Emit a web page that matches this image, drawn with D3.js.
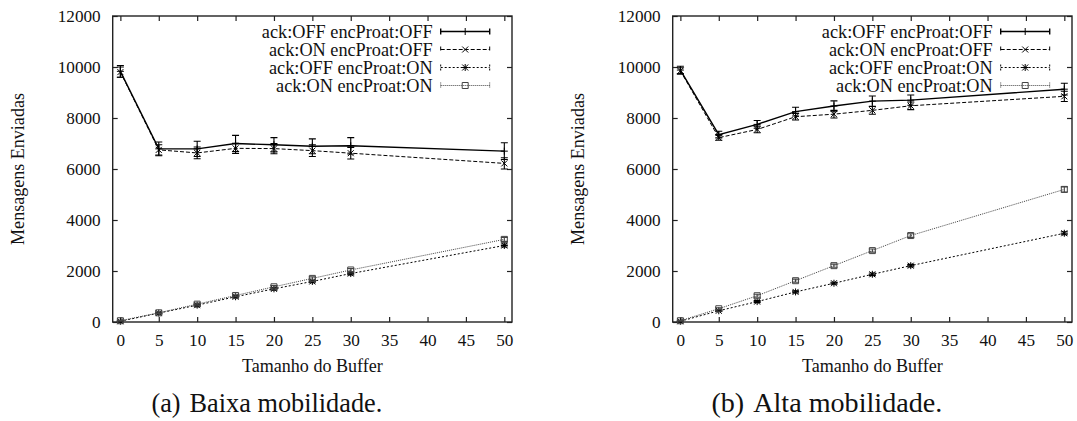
<!DOCTYPE html>
<html>
<head>
<meta charset="utf-8">
<script src="https://cdn.jsdelivr.net/npm/d3@7"></script>
<style>
  body { margin: 0; background: #fff; }
</style>
</head>
<body>
<svg id="chart" width="1077" height="421" font-family="Liberation Serif"></svg>
<script>
// ---- data ----
const buffers = [0, 5, 10, 15, 20, 25, 30, 50];
const seriesNames = ["ack:OFF encProat:OFF", "ack:ON encProat:OFF", "ack:OFF encProat:ON", "ack:ON encProat:ON"];
const xTicks = [0, 5, 10, 15, 20, 25, 30, 35, 40, 45, 50];
const yTicks = [0, 2000, 4000, 6000, 8000, 10000, 12000];

// (a) Baixa mobilidade
const lowOffOff = [9830, 6790, 6790, 7000, 6950, 6890, 6910, 6700];
const lowOffOffErr = [230, 270, 300, 320, 280, 290, 320, 330];
const lowOnOff = [9800, 6750, 6630, 6810, 6800, 6720, 6620, 6220];
const lowOnOffErr = [200, 200, 230, 200, 200, 230, 230, 220];
const lowOffOn = [30, 350, 660, 990, 1300, 1590, 1900, 3000];
const lowOffOnErr = [20, 30, 40, 40, 50, 50, 50, 60];
const lowOnOn = [50, 360, 700, 1040, 1380, 1710, 2040, 3240];
const lowOnOnErr = [20, 30, 40, 50, 50, 60, 60, 80];

// (b) Alta mobilidade
const highOffOff = [9880, 7350, 7750, 8250, 8470, 8660, 8700, 9130];
const highOffOffErr = [150, 130, 150, 170, 200, 200, 200, 230];
const highOnOff = [9850, 7230, 7550, 8050, 8150, 8300, 8480, 8850];
const highOnOffErr = [120, 100, 130, 130, 150, 150, 150, 200];
const highOffOn = [30, 440, 800, 1180, 1520, 1870, 2210, 3480];
const highOffOnErr = [20, 30, 40, 40, 40, 50, 50, 60];
const highOnOn = [50, 520, 1030, 1620, 2210, 2800, 3390, 5200];
const highOnOnErr = [20, 40, 60, 60, 60, 60, 70, 100];

// ---- styles per series (gnuplot-like) ----
const styles = [
  { dash: null,  color: "#000", width: 1.4, marker: "plus" },
  { dash: "4,2", color: "#000", width: 1,   marker: "cross" },
  { dash: "2,2", color: "#000", width: 1,   marker: "star" },
  { dash: "1,1", color: "#444", width: 1,   marker: "square" }
];

const markerPath = {
  plus: "M-3.5,0H3.5M0,-3.5V3.5",
  cross: "M-3,-3L3,3M-3,3L3,-3",
  star: "M-3.5,0H3.5M0,-3.5V3.5M-3,-3L3,3M-3,3L3,-3",
  square: "M-3,-3H3V3H-3Z"
};

const svg = d3.select("#chart");
const plotW = 399.3, plotH = 306, plotTop = 16;
const FONT = "Liberation Serif";

// pick a font size that gives a text node the width measured on the reference
function fitWidth(sel, target) {
  const w = sel.node().getComputedTextLength();
  const fs = parseFloat(sel.attr("font-size"));
  return fs * target / w;
}

function drawPanel(left, caption, values, errs) {
  const g = svg.append("g").attr("transform", `translate(${left},${plotTop})`)
    .attr("font-family", FONT).attr("fill", "#111");

  const x = d3.scaleLinear().domain([-1, 51]).range([0, plotW]);
  const y = d3.scaleLinear().domain([0, 12000]).range([plotH, 0]);

  // Axes (inward ticks, mirrored)
  const ax = [
    g.append("g").call(d3.axisLeft(y).tickValues(yTicks).tickSize(-5).tickPadding(12).tickFormat(d3.format("d"))),
    g.append("g").attr("transform", `translate(${plotW},0)`)
      .call(d3.axisRight(y).tickValues(yTicks).tickSize(-5).tickFormat("")),
    g.append("g").attr("transform", `translate(0,${plotH})`)
      .call(d3.axisBottom(x).tickValues(xTicks).tickSize(-5).tickPadding(12).tickFormat(d3.format("d"))),
    g.append("g").call(d3.axisTop(x).tickValues(xTicks).tickSize(-5).tickFormat(""))
  ];
  ax.forEach(a => {
    a.attr("font-family", FONT).attr("font-size", 17);
    a.select(".domain").remove();
    a.selectAll("line").attr("stroke", "#222").attr("stroke-width", 1.2);
    a.selectAll("text").attr("fill", "#111").attr("font-family", FONT).attr("font-size", 17);
  });
  const topLabel = ax[0].selectAll("text").filter(d => d === 12000);
  const tickFs = fitWidth(topLabel, 43);
  ax[0].selectAll("text").attr("font-size", tickFs);
  ax[2].selectAll("text").attr("font-size", tickFs);

  // Frame
  g.append("rect")
    .attr("width", plotW).attr("height", plotH)
    .attr("fill", "none").attr("stroke", "#222").attr("stroke-width", 1.4);

  // Series
  const line = d3.line().x((d, i) => x(buffers[i])).y(d => y(d));
  values.forEach((vals, s) => {
    const st = styles[s];
    const sg = g.append("g");
    sg.append("path")
      .datum(vals)
      .attr("fill", "none")
      .attr("stroke", st.color)
      .attr("stroke-width", st.width)
      .attr("stroke-dasharray", st.dash)
      .attr("d", line);

    // error bars
    sg.selectAll(".eb").data(vals).enter().append("path")
      .attr("fill", "none")
      .attr("stroke", st.color)
      .attr("stroke-width", 1.1)
      .attr("d", (d, i) => {
        const cx = x(buffers[i]), lo = y(d - errs[s][i]), hi = y(d + errs[s][i]);
        return `M${cx},${lo}V${hi}M${cx - 3.5},${lo}H${cx + 3.5}M${cx - 3.5},${hi}H${cx + 3.5}`;
      });

    // markers
    sg.selectAll(".mk").data(vals).enter().append("path")
      .attr("transform", (d, i) => `translate(${x(buffers[i])},${y(d)})`)
      .attr("d", markerPath[st.marker])
      .attr("fill", "none")
      .attr("stroke", st.color)
      .attr("stroke-width", 1);
  });

  // Legend
  const lg = g.append("g");
  const legTexts = [];
  seriesNames.forEach((name, s) => {
    const st = styles[s];
    const ly = 15.5 + s * 18;
    legTexts.push(lg.append("text")
      .attr("x", 320).attr("y", ly).attr("dy", "0.35em")
      .attr("text-anchor", "end")
      .attr("font-size", 17)
      .text(name));
    lg.append("path")
      .attr("d", `M328,${ly}H377M328,${ly - 3}V${ly + 3}M377,${ly - 3}V${ly + 3}`)
      .attr("fill", "none")
      .attr("stroke", st.color)
      .attr("stroke-width", st.width)
      .attr("stroke-dasharray", st.dash);
    lg.append("path")
      .attr("transform", `translate(352.5,${ly})`)
      .attr("d", markerPath[st.marker])
      .attr("fill", "none").attr("stroke", st.color).attr("stroke-width", 1);
  });
  const legFs = fitWidth(legTexts[0], 171);
  legTexts.forEach(t => t.attr("font-size", legFs));

  // Axis titles
  const yTitle = g.append("text")
    .attr("transform", "rotate(-90)")
    .attr("x", -plotH / 2).attr("y", -95).attr("dy", "0.35em")
    .attr("text-anchor", "middle")
    .attr("font-size", 17)
    .text("Mensagens Enviadas");
  yTitle.attr("font-size", fitWidth(yTitle, 152));

  const xTitle = g.append("text")
    .attr("x", plotW / 2).attr("y", 356)
    .attr("text-anchor", "middle")
    .attr("font-size", 17)
    .text("Tamanho do Buffer");
  xTitle.attr("font-size", fitWidth(xTitle, 141));

  // Caption
  const cap = g.append("text")
    .attr("x", plotW / 2 - 45.5).attr("y", 395.5)
    .attr("text-anchor", "middle")
    .attr("font-size", 24);
  cap.append("tspan").text(caption[0]);
  cap.append("tspan").attr("dx", 9).text(caption[1]);
  cap.attr("font-size", fitWidth(cap, 222));
}

drawPanel(112.7, ["(a)", "Baixa mobilidade."],
  [lowOffOff, lowOnOff, lowOffOn, lowOnOn],
  [lowOffOffErr, lowOnOffErr, lowOffOnErr, lowOnOnErr]);

drawPanel(672.7, ["(b)", "Alta mobilidade."],
  [highOffOff, highOnOff, highOffOn, highOnOn],
  [highOffOffErr, highOnOffErr, highOffOnErr, highOnOnErr]);
</script>
</body>
</html>
